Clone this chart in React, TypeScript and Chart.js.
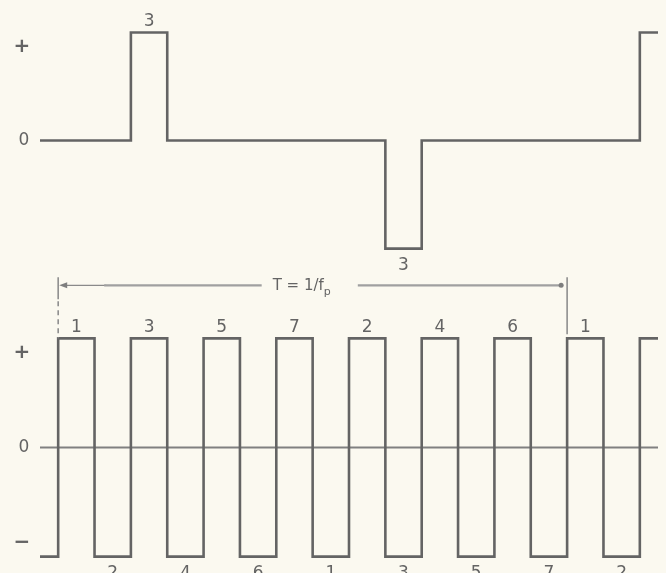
import { useEffect, useRef } from 'react';
import { Chart, registerables } from 'chart.js';

Chart.register(...registerables);

// Time axis in half-periods of the square wave
const topTimes = [-0.5, 2, 3, 9, 10, 16, 16.5];
const topLevels = [0, 1, 0, -1, 0, 1, 1];

const bottomTimes = [-0.5, 0, 1, 2, 3, 4, 5, 6, 7, 8, 9, 10, 11, 12, 13, 14, 15, 16, 16.5];
const bottomLevels = [-1, 1, -1, 1, -1, 1, -1, 1, -1, 1, -1, 1, -1, 1, -1, 1, -1, 1, 1];

const zeroLineTimes = [-0.5, 16.5];

const topPulseLabels = ['3', '3'];
const topPulseTimes = [2.5, 9.5];
const topPulseLevels = [1, -1];

const bottomUpperLabels = ['1', '3', '5', '7', '2', '4', '6', '1'];
const bottomUpperTimes = [0.5, 2.5, 4.5, 6.5, 8.5, 10.5, 12.5, 14.5];
const bottomLowerLabels = ['2', '4', '6', '1', '3', '5', '7', '2'];
const bottomLowerTimes = [1.5, 3.5, 5.5, 7.5, 9.5, 11.5, 13.5, 15.5];

const topLevelLabels = ['+', '0'];
const topLevelValues = [1, 0];
const bottomLevelLabels = ['+', '0', '\u2212'];
const bottomLevelValues = [1, 0, -1];

const periodStart = 0;
const periodEnd = 14;
const periodLabelTime = 6.7;
const periodLabel = 'T = 1/f';
const periodSub = 'p';

const BG = '#fbf9f0';
const INK = '#646464';
const FONT = '"DejaVu Sans", sans-serif';

const annotationPlugin = {
  id: 'annotations',
  beforeDraw(chart: any) {
    const ctx = chart.ctx;
    ctx.save();
    ctx.fillStyle = BG;
    ctx.fillRect(0, 0, chart.width, chart.height);
    ctx.restore();
  },
  afterDatasetsDraw(chart: any) {
    const ctx = chart.ctx as CanvasRenderingContext2D;
    const xs = chart.scales.x;
    const yT = chart.scales.yTop;
    const yB = chart.scales.yBottom;
    ctx.save();
    ctx.fillStyle = INK;
    ctx.textAlign = 'center';
    ctx.textBaseline = 'alphabetic';
    ctx.font = `17px ${FONT}`;

    const pulseLabel = (text: string, t: number, level: number, ys: any) => {
      const x = xs.getPixelForValue(t);
      const yl = ys.getPixelForValue(level);
      const y = level > 0 ? yl - 6 : yl + 21;
      ctx.fillText(text, x, y);
    };
    topPulseLabels.forEach((s, i) => pulseLabel(s, topPulseTimes[i], topPulseLevels[i], yT));
    bottomUpperLabels.forEach((s, i) => pulseLabel(s, bottomUpperTimes[i], 1, yB));
    bottomLowerLabels.forEach((s, i) => pulseLabel(s, bottomLowerTimes[i], -1, yB));

    // level labels at left
    ctx.textBaseline = 'middle';
    const levelLabel = (text: string, v: number, ys: any) => {
      const yl = ys.getPixelForValue(v);
      const y = v > 0 ? yl + 14 : v < 0 ? yl - 14 : yl;
      ctx.font = v === 0 ? `17px ${FONT}` : `bold 20px ${FONT}`;
      ctx.fillText(text, v === 0 ? 24 : 22, y);
    };
    topLevelLabels.forEach((s, i) => levelLabel(s, topLevelValues[i], yT));
    bottomLevelLabels.forEach((s, i) => levelLabel(s, bottomLevelValues[i], yB));

    // period dimension line
    const x0 = xs.getPixelForValue(periodStart);
    const x1 = xs.getPixelForValue(periodEnd);
    const yPlus = yB.getPixelForValue(1);
    const yd = yPlus - 53;
    ctx.strokeStyle = '#8e8e8e';
    ctx.fillStyle = '#8e8e8e';
    ctx.lineWidth = 1.6;
    // left extension line
    ctx.beginPath();
    ctx.moveTo(x0, yd - 8);
    ctx.lineTo(x0, yd + 14);
    ctx.stroke();
    ctx.setLineDash([5, 4]);
    ctx.beginPath();
    ctx.moveTo(x0, yd + 16);
    ctx.lineTo(x0, yPlus);
    ctx.stroke();
    ctx.setLineDash([]);
    // right extension line
    ctx.beginPath();
    ctx.moveTo(x1, yd - 8);
    ctx.lineTo(x1, yPlus - 4);
    ctx.stroke();

    // label
    ctx.font = `15px ${FONT}`;
    ctx.textAlign = 'left';
    ctx.textBaseline = 'alphabetic';
    const lx = xs.getPixelForValue(periodLabelTime);
    const w1 = ctx.measureText(periodLabel).width;
    ctx.font = `11px ${FONT}`;
    const w2 = ctx.measureText(periodSub).width;
    const total = w1 + w2;
    const left = lx - total / 2;
    ctx.fillStyle = INK;
    ctx.font = `15px ${FONT}`;
    ctx.fillText(periodLabel, left, yd + 5);
    ctx.font = `11px ${FONT}`;
    ctx.fillText(periodSub, left + w1, yd + 10);

    // left thin part, then heavier part
    ctx.strokeStyle = '#8a8a8a';
    ctx.lineWidth = 1.3;
    ctx.beginPath();
    ctx.moveTo(x0 + 6, yd);
    ctx.lineTo(x0 + 48, yd);
    ctx.stroke();
    ctx.strokeStyle = '#a0a0a0';
    ctx.lineWidth = 2.2;
    ctx.beginPath();
    ctx.moveTo(x0 + 46, yd);
    ctx.lineTo(left - 11, yd);
    ctx.moveTo(left + total + 27, yd);
    ctx.lineTo(x1 - 4, yd);
    ctx.stroke();
    // left arrow head
    ctx.fillStyle = '#7e7e7e';
    ctx.beginPath();
    ctx.moveTo(x0 + 1, yd);
    ctx.lineTo(x0 + 9, yd - 3);
    ctx.lineTo(x0 + 9, yd + 3);
    ctx.closePath();
    ctx.fill();
    // right end dot
    ctx.beginPath();
    ctx.arc(x1 - 6, yd, 2.5, 0, Math.PI * 2);
    ctx.fill();
    ctx.restore();
  },
};

export default function App() {
  const ref = useRef<HTMLCanvasElement | null>(null);

  useEffect(() => {
    document.body.style.margin = '0';
    document.body.style.background = BG;
    const canvas = ref.current;
    if (!canvas) return;
    const chart = new Chart(canvas, {
      type: 'line',
      data: {
        datasets: [
          {
            label: 'top',
            data: topTimes.map((t, i) => ({ x: t, y: topLevels[i] })),
            yAxisID: 'yTop',
            stepped: 'before',
            borderColor: INK,
            borderWidth: 2.6,
            pointRadius: 0,
            fill: false,
            borderJoinStyle: 'miter',
            borderCapStyle: 'butt',
            clip: false,
          } as any,
          {
            label: 'bottom',
            data: bottomTimes.map((t, i) => ({ x: t, y: bottomLevels[i] })),
            yAxisID: 'yBottom',
            stepped: 'before',
            borderColor: INK,
            borderWidth: 2.6,
            pointRadius: 0,
            fill: false,
            borderJoinStyle: 'miter',
            borderCapStyle: 'butt',
            clip: false,
          } as any,
          {
            label: 'zero',
            data: zeroLineTimes.map((t) => ({ x: t, y: 0 })),
            yAxisID: 'yBottom',
            borderColor: '#808080',
            borderWidth: 1.8,
            pointRadius: 0,
            fill: false,
            clip: false,
          } as any,
        ],
      },
      options: {
        responsive: false,
        animation: false,
        devicePixelRatio: 1,
        events: [],
        layout: { padding: { left: 40, right: 8, top: 0, bottom: 0 } },
        plugins: { legend: { display: false }, tooltip: { enabled: false } },
        scales: {
          x: { type: 'linear', min: -0.5, max: 16.5, display: false },
          yTop: { type: 'linear', position: 'left', min: -4, max: 1.3, display: false },
          yBottom: { type: 'linear', position: 'left', min: -1.15, max: 4.1, display: false },
        },
      },
      plugins: [annotationPlugin],
    });
    return () => chart.destroy();
  }, []);

  return (
    <div style={{ position: 'absolute', left: 0, top: 0, width: 666, height: 573, background: BG }}>
      <canvas ref={ref} width={666} height={573} style={{ display: 'block' }} />
    </div>
  );
}
